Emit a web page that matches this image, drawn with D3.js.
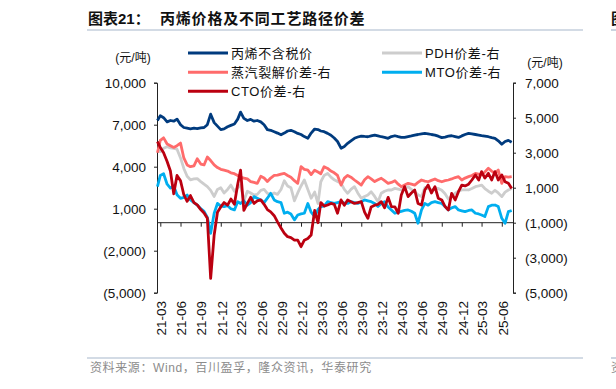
<!DOCTYPE html>
<html>
<head>
<meta charset="utf-8">
<script src="https://cdn.jsdelivr.net/npm/d3@7"></script>
<style>
body { margin: 0; background: #fff; }
text { font-family: "Liberation Sans", Arial, "Noto Sans CJK SC", sans-serif; }
</style>
</head>
<body>
<svg id="chart"></svg>
<script>
const width = 616;
const height = 389;

// 半月频日期 (2021-02-16 ～ 2025-07-16)
const dates = d3.timeMonth.range(new Date(2021, 1, 1), new Date(2025, 7, 1))
    .flatMap(m => [m, d3.timeDay.offset(m, 15)])
    .slice(1);

// 丙烯不含税价 (左轴)
const propylene = [
    7300, 7650, 7500, 7200, 7300, 7250, 7400, 7000, 6800, 6750,
    6700, 6750, 6720, 6780, 6800, 7000, 7750, 7150, 6900, 6650,
    6700, 6850, 6950, 7050, 7400, 7900, 7450, 7300, 7380, 7250,
    7300, 7200, 7000, 6650, 6600, 6500, 6400, 6280, 6400, 6550,
    6600, 6500, 6380, 6300, 6150, 6030, 6400, 6690, 6650, 6550,
    6500, 6380, 6250, 6050, 5800, 5320, 5450, 5670, 5850, 6030,
    6120, 6190, 6160, 6140, 6200, 6260, 6200, 6140, 6100, 6030,
    6150, 6210, 6150, 6100, 6090, 6150, 6200, 6260, 6300, 6350,
    6380, 6350, 6300, 6260, 6180, 6080, 6120, 6180, 6210, 6150,
    6090, 6200, 6300, 6380, 6340, 6300, 6260, 6220, 6180, 6140,
    6080, 6030, 5850, 5600, 5800, 5880, 5750
];
// PDH价差 (右轴)
const pdh = [
    3150, 3060, 3250, 3340, 3280, 3250, 3200, 2700, 2100, 1650,
    1450, 1500, 1520, 1350, 1200, 1060, 850, 500, 900, 1000,
    700, 900, 1150, 800, 1000, 1150, 250, 800, 700, 580,
    620, 850, 900, 680, 600, 700, 620, 900, 1400, 1100,
    1000, 250, 700, 1100, 1440, 900, 400, 750, 100, 1340,
    1700, 1820, 1600, 1450, 1350, 1250, 900, 680, 900, 1060,
    700, 400, 500, 580, 770, 500, 200, 680, 800, 870,
    870, 960, 920, 870, 950, 1060, 900, 770, 600, 490,
    1000, 950, 870, 920, 960, 850, 650, 350, 500, 680,
    800, 870, 880, 870, 950, 1060, 1100, 1150, 950, 800,
    680, 850, 700, 490, 750, 870, 960
];
// 蒸汽裂解价差 (右轴)
const steam = [
    3000, 3700, 3850, 3500, 3400, 3300, 3400, 3550, 2700, 2300,
    2200, 2250, 2650, 2350, 2300, 2750, 2550, 2300, 2150, 2050,
    2000, 1950, 1850, 1800, 1700, 1600, 1550, 1500, 1350, 1300,
    1250, 1650, 1550, 1350, 1550, 1700, 1720, 1780, 1820, 1700,
    1600, 1400, 1250, 2200, 2050, 2000, 1750, 2000, 1900, 1800,
    2200, 2100, 1950, 1850, 1700, 1150, 1550, 1700, 1600, 1440,
    1300, 1150, 1450, 1630, 1500, 1350, 1450, 1540, 1400, 1250,
    1300, 1400, 1200, 1060, 1150, 1250, 1200, 1150, 1300, 1440,
    1380, 1340, 1420, 1500, 1400, 1340, 1400, 1440, 1500, 1580,
    1630, 1440, 1550, 1630, 1700, 1820, 1780, 1730, 1900, 2110,
    1950, 1820, 2010, 1250, 1630, 1600, 1630
];
// MTO价差 (右轴)
const mto = [
    1060, 1700, 1800, 1200, 980, 1100, 600, 390, 450, 580,
    300, 150, 10, -200, -350, -700, -1610, -460, 100, -50,
    -80, -30, -200, -270, 200, 100, 250, 0, 150, 490,
    400, 300, 150, 400, 680, 300, 200, 150, -460, -400,
    -500, -840, -560, -500, -460, 100, -400, -650, -250, -80,
    -50, 200, 150, 100, 150, 200, 120, 100, 200, 150,
    100, 200, 300, 250, 200, 100, -80, 100, 200, -100,
    -270, -460, -400, -350, -300, -270, -350, -460, -1030, -270,
    100, 0, 150, 200, 150, 100, -80, -270, -150, -80,
    -270, -320, -370, -300, -270, -460, -500, -560, -650, -80,
    0, 10, -80, -750, -1030, -370, -300
];
// CTO价差 (右轴)
const cto = [
    3630, 3300, 3000, 2500, 1950, 650, 1700, 1400, 600, 220,
    550, 150, 20, -250, -450, -750, -4180, -1700, -400, -100,
    150, 0, 350, 50, 1200, 2000, -300, 100, 450, 100,
    250, 300, 50, -250, -380, -600, -950, -1300, -1600, -1800,
    -1850, -1990, -2000, -2370, -2000, -1900, -1700, -300, -1000, 150,
    -50, 10, 100, 50, -460, 300, 0, 300, 200, 100,
    150, 200, -400, -750, -100, 0, 50, 200, -150, 450,
    -80, -100, -460, 580, 1060, 490, 700, 870, 100, 10,
    870, 1150, 700, 1060, 400, 300, -80, -270, 680, 300,
    770, 1150, 1100, 1200, 1440, 1730, 1440, 1920, 1550, 1820,
    1440, 1920, 1440, 1730, 1340, 1250, 960
];

const leftTicks = [10000, 7000, 4000, 1000, -2000, -5000];
const rightTicks = [7000, 5000, 3000, 1000, -1000, -3000, -5000];
const xTickLabels = ['21-03', '21-06', '21-09', '21-12', '22-03', '22-06', '22-09', '22-12',
    '23-03', '23-06', '23-09', '23-12', '24-03', '24-06', '24-09', '24-12', '25-03', '25-06'];

const seriesList = [
    { name: '丙烯不含税价', values: propylene, color: '#003b7e', axis: 'left' },
    { name: 'PDH价差-右', values: pdh, color: '#cdcdcd', axis: 'right' },
    { name: '蒸汽裂解价差-右', values: steam, color: '#ff6b6b', axis: 'right' },
    { name: 'MTO价差-右', values: mto, color: '#00aeef', axis: 'right' },
    { name: 'CTO价差-右', values: cto, color: '#bb0010', axis: 'right' }
];

const svg = d3.select('#chart')
    .attr('width', width)
    .attr('height', height);

svg.append('rect').attr('width', width).attr('height', height).attr('fill', '#fff');

const plotLeft = 157, plotRight = 513, plotTop = 82.7, plotBottom = 292.7;

const x = d3.scaleTime()
    .domain([new Date(2021, 1, 14), new Date(2025, 6, 22)])
    .range([plotLeft, plotRight]);
const yLeft = d3.scaleLinear().domain([-5000, 10000]).range([plotBottom, plotTop]);
const yRight = d3.scaleLinear().domain([-5000, 7000]).range([plotBottom, plotTop]);

const fmt = d => d < 0 ? '(' + d3.format(',')(-d) + ')' : d3.format(',')(d);

// 标题
svg.append('text')
    .attr('x', 88).attr('y', 24)
    .attr('font-size', 15).attr('font-weight', 'bold').attr('fill', '#111')
    .text('图表21：');
svg.append('text')
    .attr('x', 160).attr('y', 24)
    .attr('font-size', 15).attr('font-weight', 'bold').attr('fill', '#111')
    .attr('letter-spacing', 0.8)
    .text('丙烯价格及不同工艺路径价差');
// 右侧相邻图表的残留标题 (参考图中同样被裁切)
svg.append('text')
    .attr('x', 611).attr('y', 24)
    .attr('font-size', 15).attr('font-weight', 'bold').attr('fill', '#111')
    .text('图');

// 分隔线
[30, 358].forEach(yy => {
    svg.append('line').attr('x1', 87).attr('x2', 583).attr('y1', yy).attr('y2', yy)
        .attr('stroke', '#a8b8cc').attr('stroke-width', 1.2);
    svg.append('line').attr('x1', 611).attr('x2', 616).attr('y1', yy).attr('y2', yy)
        .attr('stroke', '#a8b8cc').attr('stroke-width', 1.2);
});

// 资料来源
svg.append('text')
    .attr('x', 90).attr('y', 372)
    .attr('font-size', 12).attr('fill', '#8c8c8c').attr('letter-spacing', 0.6)
    .text('资料来源：Wind，百川盈孚，隆众资讯，华泰研究');
svg.append('text')
    .attr('x', 611).attr('y', 372)
    .attr('font-size', 12).attr('fill', '#8c8c8c')
    .text('资');

// 单位
svg.append('text').attr('x', 133).attr('y', 62).attr('text-anchor', 'middle')
    .attr('font-size', 12).attr('fill', '#111').text('(元/吨)');
svg.append('text').attr('x', 545).attr('y', 67).attr('text-anchor', 'middle')
    .attr('font-size', 12).attr('fill', '#111').text('(元/吨)');

// 左轴
const gLeft = svg.append('g')
    .attr('transform', `translate(${plotLeft},0)`)
    .call(d3.axisLeft(yLeft).tickValues(leftTicks).tickFormat(fmt).tickSize(3).tickPadding(8));
// 右轴
const gRight = svg.append('g')
    .attr('transform', `translate(${plotRight},0)`)
    .call(d3.axisRight(yRight).tickValues(rightTicks).tickFormat(fmt).tickSize(3).tickPadding(9));

[gLeft, gRight].forEach(g => {
    g.select('.domain').attr('stroke', '#222');
    g.selectAll('.tick line').attr('stroke', '#222');
    g.selectAll('.tick text')
        .attr('font-size', 13.5)
        .attr('fill', '#111')
        .attr('font-family', '"Liberation Sans", Arial, sans-serif');
});

// X轴 (左轴0处)
const parseMonth = d3.timeParse('%y-%m');
const xTicks = xTickLabels.map(parseMonth);
const gX = svg.append('g')
    .attr('transform', `translate(0,${yLeft(0)})`)
    .call(d3.axisBottom(x).tickValues(xTicks).tickSize(4).tickFormat(''));
gX.select('.domain').attr('stroke', '#222').attr('d', `M${plotLeft},0H${plotRight}`);
gX.selectAll('.tick line').attr('stroke', '#222');

// X轴标签 (旋转)
svg.append('g')
    .selectAll('text')
    .data(xTicks)
    .join('text')
    .attr('transform', d => `translate(${x(d) + 1},${301}) rotate(-90)`)
    .attr('text-anchor', 'end')
    .attr('dy', '0.35em')
    .attr('font-size', 13.5)
    .attr('fill', '#111')
    .text((d, i) => xTickLabels[i]);

// 折线
seriesList.forEach(s => {
    const yScale = s.axis === 'left' ? yLeft : yRight;
    const line = d3.line()
        .x((d, i) => x(dates[i]))
        .y(d => yScale(d));
    svg.append('path')
        .datum(s.values)
        .attr('fill', 'none')
        .attr('stroke', s.color)
        .attr('stroke-width', 2.8)
        .attr('stroke-linejoin', 'round')
        .attr('d', line);
});

// 图例
const legendPos = [
    { x: 188, y: 53 },
    { x: 382, y: 53 },
    { x: 188, y: 72.3 },
    { x: 382, y: 72.3 },
    { x: 188, y: 91.3 }
];
seriesList.forEach((s, i) => {
    const p = legendPos[i];
    const g = svg.append('g').attr('transform', `translate(${p.x},${p.y})`);
    g.append('line').attr('x1', 0).attr('x2', 40).attr('y1', 0).attr('y2', 0)
        .attr('stroke', s.color).attr('stroke-width', 3);
    g.append('text')
        .attr('x', 43).attr('y', 0).attr('dy', '0.36em')
        .attr('font-size', 13).attr('fill', '#111')
        .attr('letter-spacing', 0.6)
        .text(s.name);
});
</script>
</body>
</html>
